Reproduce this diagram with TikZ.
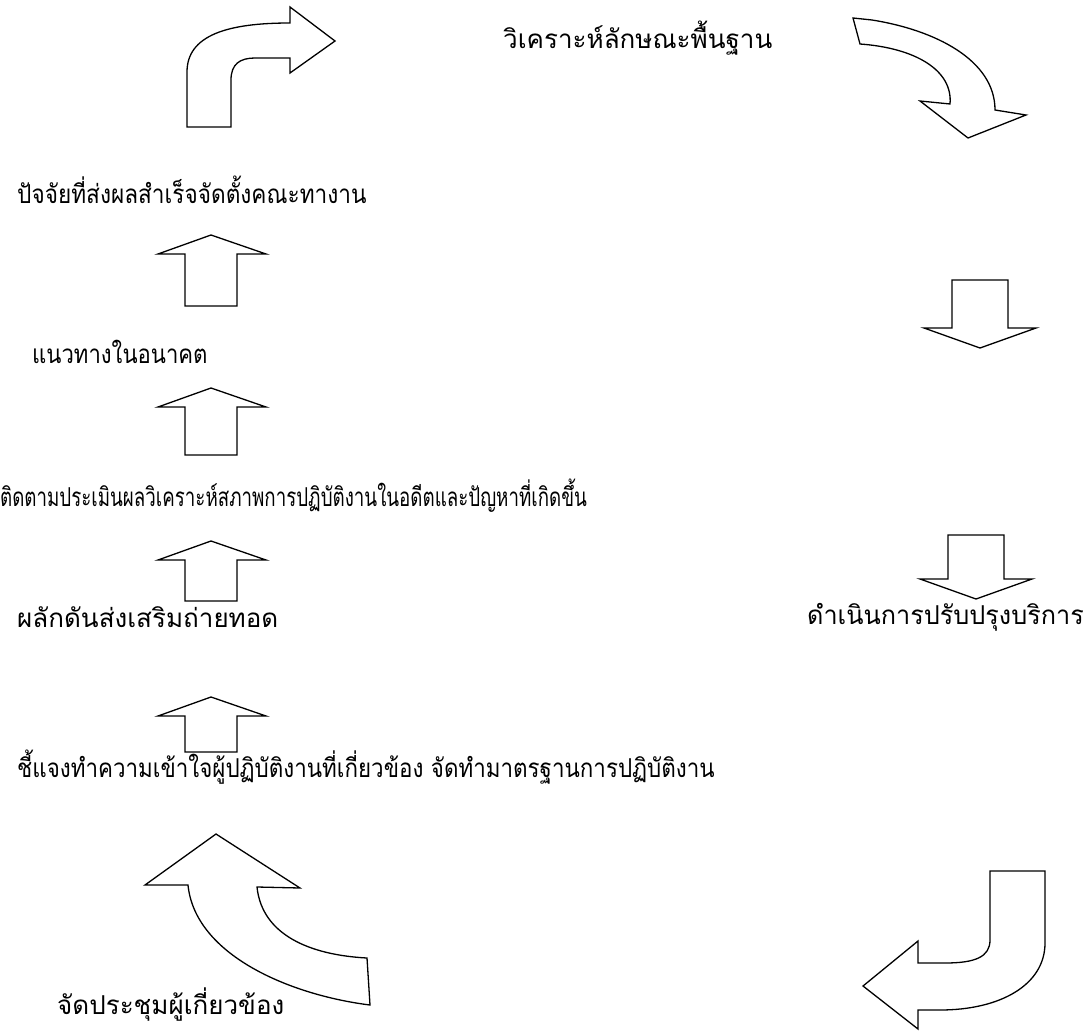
\documentclass[tikz,border=0pt]{standalone}
\usepackage{fontspec}
\newfontfamily\thaifont[Script=Thai]{Loma}
\tikzset{
  blk/.style={draw, line width=1.3pt, fill=white, line join=miter},
  lbl/.style={anchor=west, inner sep=0pt, transform shape, font=\thaifont\fontsize{26}{30}\selectfont}
}
\begin{document}
\begin{tikzpicture}[x=1pt, y=-1pt]
  \useasboundingbox (0,0) rectangle (1091,1032);
  \node[lbl] (basic) at (503,38) {วิเคราะห์ลักษณะพื้นฐาน};
  \node[lbl, xscale=.87] (factor) at (17,190) {ปัจจัยที่ส่งผลสำเร็จจัดตั้งคณะทางาน};
  \node[lbl, xscale=.85] (future) at (32,352) {แนวทางในอนาคต};
  \node[lbl, xscale=.72] (follow) at (0,496) {ติดตามประเมินผลวิเคราะห์สภาพการปฏิบัติงานในอดีตและปัญหาที่เกิดขึ้น};
  \node[lbl] (push) at (17,617) {ผลักดันส่งเสริมถ่ายทอด};
  \node[lbl, xscale=.97] (improve) at (807,617) {ดำเนินการปรับปรุงบริการ};
  \node[lbl, xscale=.86] (explain) at (17,767) {ชี้แจงทำความเข้าใจผู้ปฏิบัติงานที่เกี่ยวข้อง จัดทำมาตรฐานการปฏิบัติงาน};
  \node[lbl] (meet) at (57,1005) {จัดประชุมผู้เกี่ยวข้อง};

  \draw[blk] (187,127) -- (187,72) .. controls (187,35) and (228,23) .. (290,23)
    -- (290,7) -- (335,41) -- (290,73) -- (290,58) -- (255,58)
    .. controls (240,58) and (231,64) .. (231,80) -- (231,127) -- cycle;
  \draw[blk] (853,18) -- (872,20) .. controls (935,30) and (995,60) .. (995,110)
    -- (1026,115) -- (968,138) -- (920,101) -- (950,104)
    .. controls (953,70) and (915,48) .. (860,44) -- cycle;
  \draw[blk] (990,871) -- (1045,871) -- (1045,943)
    .. controls (1045,985) and (1000,1010) .. (940,1010) -- (918,1010)
    -- (918,1029) -- (863,986) -- (918,941) -- (918,963) -- (945,963)
    .. controls (975,963) and (990,957) .. (990,940) -- cycle;
  \draw[blk] (216,834) -- (300,888) -- (257,887)
    .. controls (262,935) and (310,955) .. (367,958) -- (370,1005)
    .. controls (290,995) and (195,955) .. (188,885) -- (145,885) -- cycle;

  \foreach \t/\b in {235/306, 388/455, 541/601, 697/752}
    \draw[blk] (211,\t) -- (266,\t+19) -- (237,\t+19) -- (237,\b)
      -- (185,\b) -- (185,\t+19) -- (158,\t+19) -- cycle;
  \foreach \c/\t/\p in {980/280/348, 976/535/599}
    \draw[blk] (\c-28,\t) -- (\c+28,\t) -- (\c+28,\p-20) -- (\c+56,\p-20)
      -- (\c,\p) -- (\c-56,\p-20) -- (\c-28,\p-20) -- cycle;
\end{tikzpicture}
\end{document}
